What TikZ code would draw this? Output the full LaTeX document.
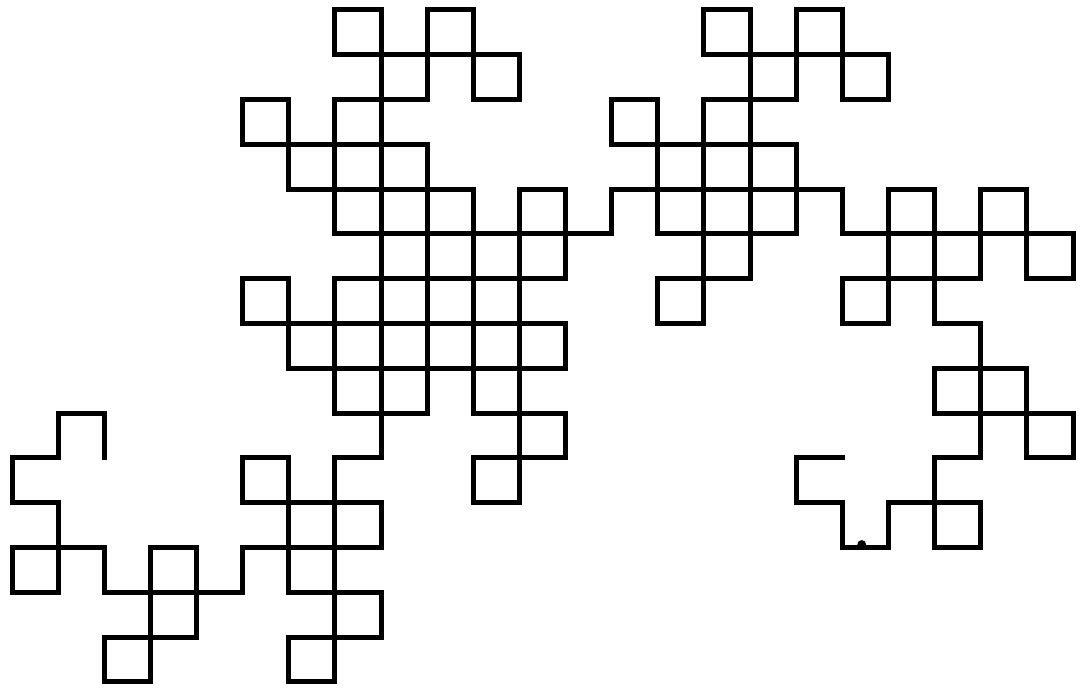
\documentclass[tikz,border=0pt]{standalone}
% Heighway dragon curve of order 8 (256 unit steps), computed step by step
\newcount\dk \newcount\dm \newcount\ddir \newcount\dx \newcount\dy \newcount\dtmp
\def\dstep{%
  \ifcase\ddir \advance\dx 1 \or \advance\dy 1 \or \advance\dx -1 \or \advance\dy -1 \fi
  \edef\dpath{\dpath -- (\the\dx,\the\dy)}%
}
\def\doddpart{\ifodd\dm \else \divide\dm 2 \expandafter\doddpart \fi}
\dx=18 \dy=5 \ddir=2
\edef\dpath{(\the\dx,\the\dy)}
\dstep
\dk=1
\loop
  \dm=\dk \doddpart
  \dtmp=\dm \divide\dtmp 4 \multiply\dtmp 4 \advance\dm -\dtmp
  \ifnum\dm=1 \advance\ddir 1 \else \advance\ddir 3 \fi
  \ifnum\ddir>3 \advance\ddir -4 \fi
  \dstep
  \advance\dk 1
\ifnum\dk<256 \repeat
\tikzset{
  dragon/.style={line width=2.5pt, line join=miter, line cap=rect, black},
  blob/.style={fill=black}
}
\begin{document}
\begin{tikzpicture}[x={(23.065pt,0pt)}, y={(0pt,22.4pt)}]
  \useasboundingbox (-6pt,-3pt) rectangle (534pt,341pt);
  \draw[dragon] \dpath;
  \fill[blob] (18.42,3.07) circle[radius=2.2pt];
\end{tikzpicture}
\end{document}
